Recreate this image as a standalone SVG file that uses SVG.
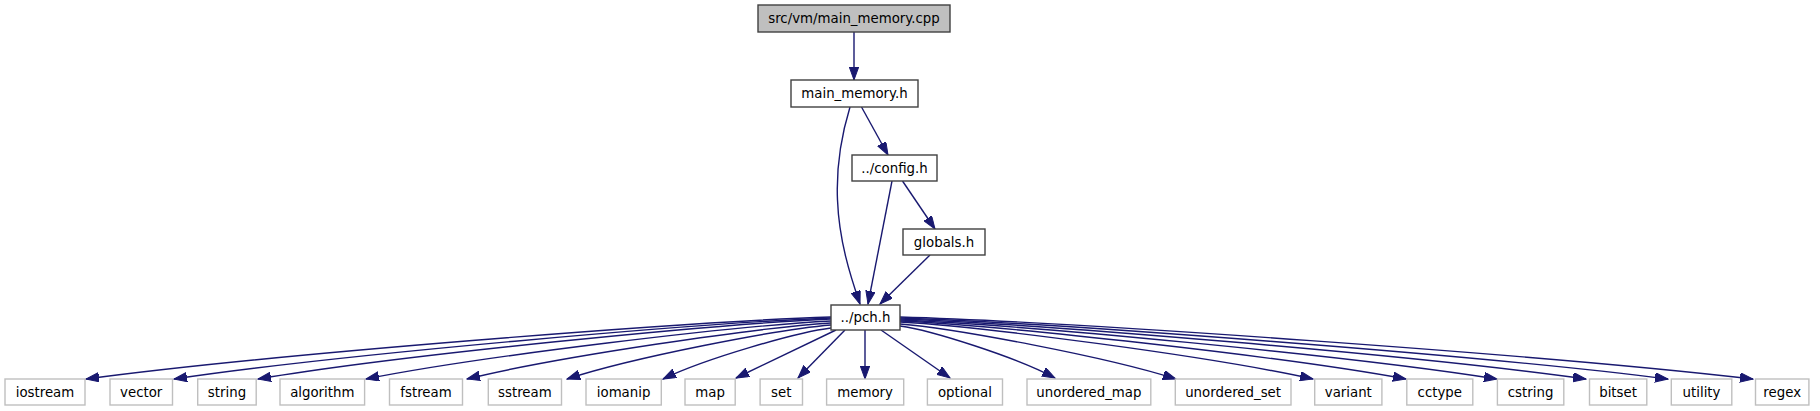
<svg xmlns="http://www.w3.org/2000/svg" width="1820" height="411" viewBox="0 0 1820 411">
<style>
.n rect{fill:#fff;stroke:#404040;stroke-width:1.4}
.n.cur rect{fill:#bfbfbf}
.n.ext rect{stroke:#bfbfbf}
.n text{font-family:"DejaVu Sans","Liberation Sans",sans-serif;font-size:13.33px;fill:#000;text-anchor:middle}
#edges path{fill:none;stroke:#191970;stroke-width:1.4;marker-end:url(#ah)}
</style>
<defs>
<marker id="ah" markerUnits="userSpaceOnUse" markerWidth="14" markerHeight="10" refX="13" refY="4.7" orient="auto">
<path d="M0,0 L13,4.7 L0,9.4 z" fill="#191970" stroke="#191970" stroke-width="1"/>
</marker>
</defs>
<rect width="1820" height="411" fill="#fff"/>
<g id="edges">
<path d="M854,32 L854,80"/>
<path d="M861.5,107 L888,155"/>
<path d="M850,107 C843,130 836,165 837.5,200 C839,240 850,275 860,304"/>
<path d="M892,181 L868,304"/>
<path d="M902.5,181 L935,229"/>
<path d="M930,255 L880,304"/>
<path d="M831,317 C682,322 272,354 86,379"/>
<path d="M831,318 C699.6,322.9 338.3,354.6 174,379"/>
<path d="M831,319 C716.4,323.8 401.3,355 258,379"/>
<path d="M831,321 C738,325.6 482.3,355.8 366,379"/>
<path d="M831,323 C758.2,327.5 558,356.6 467,379"/>
<path d="M831,325 C778.2,329.3 633,357.4 567,379"/>
<path d="M831,328 C797.4,332.1 705,358.6 663,379"/>
<path d="M836,330 L736,378"/>
<path d="M845,330 L798,378"/>
<path d="M865,330 L865,379"/>
<path d="M881,330 L950,378"/>
<path d="M900,326 C931,330.2 1016.3,357.2 1055,378"/>
<path d="M900,324 C955.2,328.4 1107,357 1176,379"/>
<path d="M900,322 C982.6,326.6 1209.8,356.2 1313,379"/>
<path d="M900,321 C1001.2,325.6 1279.5,355.8 1406,379"/>
<path d="M900,320 C1019.4,324.7 1347.8,355.4 1497,379"/>
<path d="M900,319 C1037.2,323.8 1414.5,355 1586,379"/>
<path d="M900,318 C1053.6,322.9 1476,354.6 1668,379"/>
<path d="M900,317 C1070.6,322 1539.75,354.2 1753,379"/>
</g>
<g id="node_main_memory_cpp" class="n cur"><rect x="758" y="5" width="192" height="27"/><text x="854" y="23">src/vm/main_memory.cpp</text></g>
<g id="node_main_memory_h" class="n"><rect x="791" y="80" width="127" height="27"/><text x="854.5" y="98">main_memory.h</text></g>
<g id="node_config_h" class="n"><rect x="852" y="155" width="85" height="26"/><text x="894.5" y="172.5">../config.h</text></g>
<g id="node_globals_h" class="n"><rect x="903" y="229" width="82" height="26"/><text x="944" y="246.5">globals.h</text></g>
<g id="node_pch_h" class="n"><rect x="831" y="305" width="69" height="25"/><text x="865.5" y="322">../pch.h</text></g>
<g id="node_iostream" class="n ext"><rect x="5" y="379" width="80" height="26"/><text x="45" y="396.5">iostream</text></g>
<g id="node_vector" class="n ext"><rect x="110" y="379" width="62.5" height="26"/><text x="141.2" y="396.5">vector</text></g>
<g id="node_string" class="n ext"><rect x="197.7" y="379" width="58.5" height="26"/><text x="227" y="396.5">string</text></g>
<g id="node_algorithm" class="n ext"><rect x="280" y="379" width="84.6" height="26"/><text x="322.3" y="396.5">algorithm</text></g>
<g id="node_fstream" class="n ext"><rect x="389.5" y="379" width="73" height="26"/><text x="426" y="396.5">fstream</text></g>
<g id="node_sstream" class="n ext"><rect x="488.3" y="379" width="73.2" height="26"/><text x="524.9" y="396.5">sstream</text></g>
<g id="node_iomanip" class="n ext"><rect x="586" y="379" width="75.3" height="26"/><text x="623.6" y="396.5">iomanip</text></g>
<g id="node_map" class="n ext"><rect x="685" y="379" width="50.2" height="26"/><text x="710.1" y="396.5">map</text></g>
<g id="node_set" class="n ext"><rect x="760.1" y="379" width="42.4" height="26"/><text x="781.3" y="396.5">set</text></g>
<g id="node_memory" class="n ext"><rect x="826.6" y="379" width="77.1" height="26"/><text x="865.1" y="396.5">memory</text></g>
<g id="node_optional" class="n ext"><rect x="927.4" y="379" width="75.1" height="26"/><text x="964.9" y="396.5">optional</text></g>
<g id="node_unordered_map" class="n ext"><rect x="1027" y="379" width="123.8" height="26"/><text x="1088.9" y="396.5">unordered_map</text></g>
<g id="node_unordered_set" class="n ext"><rect x="1175.3" y="379" width="115.7" height="26"/><text x="1233.1" y="396.5">unordered_set</text></g>
<g id="node_variant" class="n ext"><rect x="1314.7" y="379" width="67.2" height="26"/><text x="1348.3" y="396.5">variant</text></g>
<g id="node_cctype" class="n ext"><rect x="1406.8" y="379" width="66" height="26"/><text x="1439.8" y="396.5">cctype</text></g>
<g id="node_cstring" class="n ext"><rect x="1497.4" y="379" width="66.4" height="26"/><text x="1530.6" y="396.5">cstring</text></g>
<g id="node_bitset" class="n ext"><rect x="1589.5" y="379" width="57.3" height="26"/><text x="1618.1" y="396.5">bitset</text></g>
<g id="node_utility" class="n ext"><rect x="1671.3" y="379" width="60.5" height="26"/><text x="1701.5" y="396.5">utility</text></g>
<g id="node_regex" class="n ext"><rect x="1755.5" y="379" width="53.4" height="26"/><text x="1782.2" y="396.5">regex</text></g>
</svg>
